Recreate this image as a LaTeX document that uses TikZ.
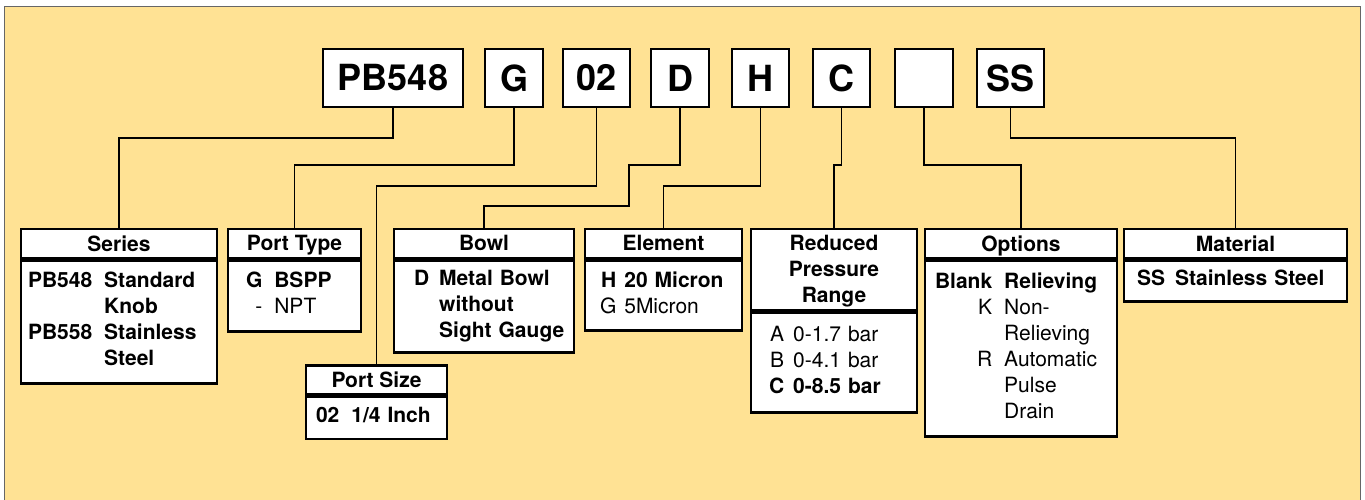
\documentclass[tikz,border=0pt]{standalone}
\usepackage{fontspec}
\setmainfont{TeX Gyre Heros}
\definecolor{panel}{RGB}{255,226,148}
\tikzset{
  codebox/.style={draw,line width=2.5pt,fill=white,minimum height=58pt,inner sep=0pt,
    font=\bfseries\fontsize{36}{36}\selectfont},
  headbox/.style={draw,line width=2.5pt,fill=white,anchor=north,minimum height=29pt,
    inner sep=0pt,text depth=0pt,font=\bfseries\fontsize{21}{26}\selectfont},
  listbox/.style={draw,line width=2.5pt,fill=white,anchor=north,inner sep=0pt,
    align=left,font=\fontsize{21}{26}\selectfont},
  boldlist/.style={listbox,font=\bfseries\fontsize{21}{26}\selectfont},
  link/.style={line width=1.5pt}
}

\begin{document}
\begin{tikzpicture}[x=1pt,y=-1pt]
  \useasboundingbox (0,0) rectangle (1365,500);
  \fill[panel] (4,7) rectangle (1360,500);
  \draw[black!60,line width=1pt] (4,500)--(4,7)--(1360,7)--(1360,500);

  % model code
  \foreach \name/\x/\w/\txt in {ser/393/140/PB548, port/514/58/G, size/596.5/67/02,
      bowl/680/58/D, elem/760.5/57/H, press/841.5/57/C, opt/924/58/{}, mat/1010.5/67/SS} {
    \node[codebox,minimum width=\w pt] (c-\name) at (\x,78) {\txt};
  };

  % series
  \node[headbox,minimum width=196pt] (h-ser) at (119,227.5) {Series};
  \node[boldlist,text width=196pt,minimum height=123pt] (b-ser) at (h-ser.south)
    {\begin{tabular}{@{\hspace{7pt}}r@{\hspace{12pt}}l@{}}
      PB548 & Standard\\ & Knob\\ PB558 & Stainless\\ & Steel
    \end{tabular}};

  % port type
  \node[headbox,minimum width=133pt] (h-port) at (294.5,227.5) {Port Type};
  \node[listbox,text width=133pt,minimum height=71pt] (b-port) at (h-port.south)
    {\begin{tabular}{@{\hspace{18pt}}r@{\hspace{12pt}}l@{}}
      \textbf{G} & \textbf{BSPP}\\ - & NPT
    \end{tabular}};

  % port size
  \node[headbox,minimum width=141pt] (h-size) at (376.5,364) {Port Size};
  \node[boldlist,text width=141pt,minimum height=42pt] (b-size) at (h-size.south)
    {\begin{tabular}{@{\hspace{10pt}}r@{\hspace{12pt}}l@{}}
      02 & 1/4 Inch
    \end{tabular}};

  % bowl
  \node[headbox,minimum width=180pt] (h-bowl) at (484,227.5) {Bowl};
  \node[boldlist,text width=180pt,minimum height=92pt] (b-bowl) at (h-bowl.south)
    {\begin{tabular}{@{\hspace{20pt}}r@{\hspace{10pt}}l@{}}
      D & Metal Bowl\\ & without\\ & Sight Gauge
    \end{tabular}};

  % element
  \node[headbox,minimum width=157pt] (h-elem) at (663.5,227.5) {Element};
  \node[listbox,text width=157pt,minimum height=70pt] (b-elem) at (h-elem.south)
    {\begin{tabular}{@{\hspace{15pt}}r@{\hspace{8pt}}l@{}}
      \textbf{H} & \textbf{20 Micron}\\ G & 5Micron
    \end{tabular}};

  % reduced pressure range
  \node[headbox,minimum width=166pt,minimum height=81pt,align=center,
    text height=67pt] (h-press) at (834,227.5) {Reduced\\Pressure\\Range};
  \node[listbox,text width=166pt,minimum height=100pt] (b-press) at (h-press.south)
    {\begin{tabular}{@{\hspace{18pt}}r@{\hspace{9pt}}l@{}}
      A & 0-1.7 bar\\ B & 0-4.1 bar\\ \textbf{C} & \textbf{0-8.5 bar}
    \end{tabular}};

  % options
  \node[headbox,minimum width=192pt] (h-opt) at (1021,227.5) {Options};
  \node[listbox,text width=192pt,minimum height=176pt] (b-opt) at (h-opt.south)
    {\begin{tabular}{@{\hspace{10pt}}r@{\hspace{12pt}}l@{}}
      \textbf{Blank} & \textbf{Relieving}\\ K & Non-\\ & Relieving\\
      R & Automatic\\ & Pulse\\ & Drain
    \end{tabular}};

  % material
  \node[headbox,minimum width=223pt] (h-mat) at (1235.5,227.5) {Material};
  \node[boldlist,text width=223pt,minimum height=41pt] (b-mat) at (h-mat.south)
    {\begin{tabular}{@{\hspace{13pt}}r@{\hspace{10pt}}l@{}}
      SS & Stainless Steel
    \end{tabular}};

  % connectors
  \draw[link] (c-ser.south) -- (c-ser.south |- 0,138) -| (h-ser.north);
  \draw[link] (c-port.south) -- (c-port.south |- 0,165) -| (h-port.north);
  \draw[link] (c-size.south) -- (c-size.south |- 0,186) -| (h-size.north);
  \draw[link] (c-bowl.south) -- (c-bowl.south |- 0,165) -- (629,165) -- (629,206) -| (h-bowl.north);
  \draw[link] (c-elem.south) -- (c-elem.south |- 0,186) -| (h-elem.north);
  \draw[link] (c-press.south) -- (c-press.south |- 0,165) -| (h-press.north);
  \draw[link] (c-opt.south) -- (c-opt.south |- 0,165) -| (h-opt.north);
  \draw[link] (c-mat.south) -- (c-mat.south |- 0,138) -| (h-mat.north);
\end{tikzpicture}
\end{document}
